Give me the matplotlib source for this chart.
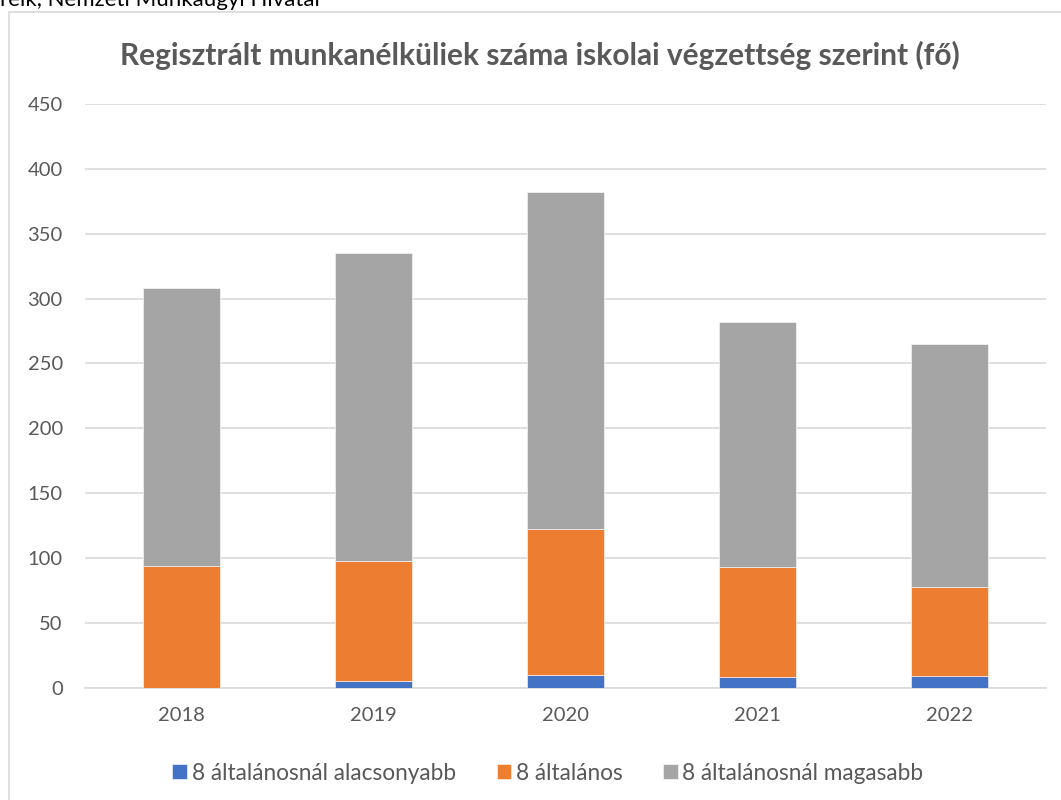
import matplotlib
matplotlib.use("Agg")
import matplotlib.pyplot as plt
from matplotlib.patches import Rectangle
import numpy as np

plt.rcParams["font.family"] = ["Lato", "DejaVu Sans"]

years = ["2018", "2019", "2020", "2021", "2022"]
alacsonyabb = [0, 5, 10, 8, 9]
altalanos = [94, 93, 112, 85, 69]
magasabb = [214, 237, 260, 189, 187]

series_names = ["8 általánosnál alacsonyabb", "8 általános", "8 általánosnál magasabb"]
colors = ["#4472C4", "#ED7D31", "#A5A5A5"]
yticks = [0, 50, 100, 150, 200, 250, 300, 350, 400, 450]

W, H = 1061, 800
fig = plt.figure(figsize=(W / 100, H / 100), dpi=100)

# outer chart frame, partly off the image
fig.patches.append(Rectangle((9 / W, -0.05), 1.1, 1 - 12 / H + 0.05,
                             transform=fig.transFigure, fill=False,
                             edgecolor="#D9D9D9", linewidth=1.2))

# clipped source line above the frame (cut off in the original too)
fig.text(0, 1 - 6 / H, "reik, Nemzeti Munkaügyi Hivatal", fontsize=16,
         color="black", va="baseline", ha="left")

ax = fig.add_axes([85 / W, 1 - 687.7 / H, (1046 - 85) / W, (687.7 - 104) / H])

x = np.arange(len(years))
bottom = np.zeros(len(years))
for vals, name, c in zip([alacsonyabb, altalanos, magasabb], series_names, colors):
    ax.bar(x, vals, width=0.4, bottom=bottom, color=c, label=name,
           edgecolor="white", linewidth=0.4, zorder=3)
    bottom += np.array(vals)

ax.set_xlim(-0.5, len(years) - 0.5)
ax.set_ylim(0, 450)
ax.set_yticks(yticks)
ax.set_xticks(x)
ax.set_xticklabels(years)
ax.grid(axis="y", color="#D9D9D9", linewidth=1.2, zorder=0)
for s in ["top", "right", "left"]:
    ax.spines[s].set_visible(False)
ax.spines["bottom"].set_color("#D9D9D9")
ax.spines["bottom"].set_linewidth(1.2)
ax.tick_params(axis="both", length=0, colors="#595959", labelsize=14.5)
ax.tick_params(axis="y", pad=16)
ax.tick_params(axis="x", pad=14)

fig.text(540 / W, 1 - 55 / H,
         "Regisztrált munkanélküliek száma iskolai végzettség szerint (fő)",
         fontsize=21.5, fontweight="bold", color="#595959", ha="center", va="center")

fig.legend(loc="center", bbox_to_anchor=(548 / W, 1 - 773 / H), ncol=3,
           frameon=False, fontsize=16.3, handlelength=0.65, handleheight=0.65,
           handletextpad=0.2, columnspacing=1.8, labelcolor="#595959")

fig.savefig("out.png", dpi=100)
